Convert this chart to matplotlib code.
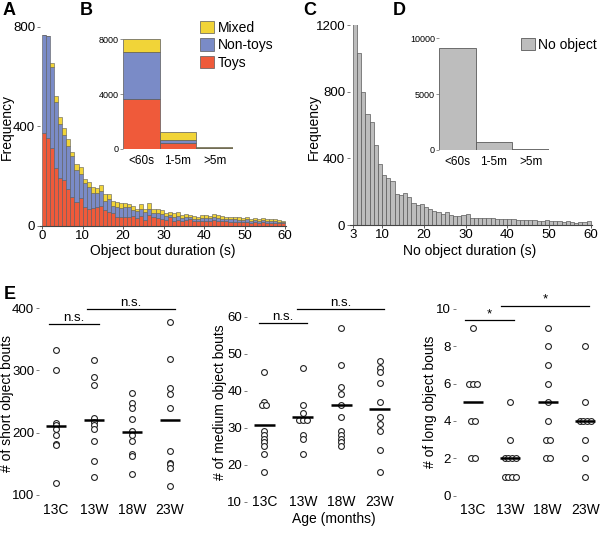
import numpy as np
import matplotlib.pyplot as plt

plt.rcParams['font.family'] = ['Liberation Sans', 'DejaVu Sans']
plt.rcParams['font.size'] = 10

# panel A: object bout durations, 1 s bins from 0 to 60
toys = [372, 352, 312, 233, 193, 185, 147, 114, 94, 111,
        74, 67, 71, 74, 78, 63, 54, 50, 36, 34,
        36, 36, 39, 30, 39, 23, 43, 34, 31, 28,
        23, 34, 20, 23, 19, 22, 25, 18, 17, 18,
        20, 18, 22, 20, 18, 17, 15, 16, 15, 14,
        16, 12, 13, 11, 14, 12, 11, 12, 10, 9]
nontoys = [393, 409, 324, 265, 217, 181, 175, 167, 131, 95,
           98, 87, 62, 59, 61, 37, 53, 30, 38, 36,
           40, 38, 24, 28, 27, 32, 25, 16, 21, 19,
           16, 9, 16, 16, 11, 13, 10, 10, 10, 12,
           12, 11, 12, 11, 10, 10, 10, 10, 9, 9,
           9, 8, 9, 8, 9, 8, 8, 8, 6, 6]
mixed = [3, 3, 17, 22, 27, 25, 26, 15, 24, 28,
         16, 23, 21, 18, 26, 27, 20, 19, 20, 22,
         16, 13, 16, 10, 21, 11, 22, 16, 16, 16,
         11, 12, 16, 16, 13, 12, 10, 10, 9, 12,
         12, 11, 12, 11, 10, 9, 9, 9, 9, 9,
         9, 8, 8, 7, 9, 8, 7, 8, 6, 5]

# panel B inset
bout_classes = ['<60s', '1-5m', '>5m']
toys_total = [3660, 435, 40]
nontoys_total = [3370, 195, 25]
mixed_total = [950, 600, 80]

# panel C: no object durations, 1 s bins from 3 to 60
no_object = [1205, 1029, 798, 663, 617, 482, 366, 302, 285, 265,
             185, 179, 191, 169, 135, 121, 125, 109, 94, 84,
             80, 68, 76, 60, 54, 54, 62, 64, 44, 40,
             42, 40, 42, 40, 38, 36, 34, 36, 34, 30,
             30, 32, 28, 30, 26, 26, 28, 22, 24, 22,
             20, 22, 16, 14, 16, 20, 22]
# panel D inset
no_object_total = [9100, 750, 90]

# panel E
groups = ['13C', '13W', '18W', '23W']
short_bouts = [[332, 300, 215, 213, 206, 197, 182, 180, 120],
               [317, 290, 276, 223, 217, 212, 206, 186, 155, 129],
               [263, 248, 239, 222, 203, 196, 186, 165, 163, 133],
               [377, 319, 271, 262, 239, 171, 151, 149, 144, 115]]
short_mean = [210, 220, 201, 220]
medium_bouts = [[45, 37, 36, 36, 29, 28, 27, 26, 25, 23, 18],
                [46, 36, 34, 32, 32, 32, 28, 27, 23],
                [57, 47, 41, 39, 36, 33, 29, 28, 27, 26, 25],
                [48, 46, 45, 42, 37, 33, 31, 29, 24, 18]]
medium_mean = [30.6, 33, 36, 35]
long_bouts = [[9, 6, 6, 6, 4, 4, 2, 2],
              [5, 3, 2, 2, 2, 2, 1, 1, 1, 1],
              [9, 8, 7, 6, 5, 4, 3, 3, 2, 2],
              [8, 5, 4, 4, 4, 4, 3, 2, 1]]
long_mean = [5, 2, 5, 4]

red = '#EF5A3A'
blue = '#7A8BC7'
yellow = '#F1D438'
grey = '#BDBDBD'
edge = '#5a5a5a'

W, H = 600, 533
fig = plt.figure(figsize=(6, 5.33), dpi=100)


def axes_px(left, top, right, bottom):
    return fig.add_axes([left / W, 1 - bottom / H, (right - left) / W, (bottom - top) / H])


def label_px(x, y, text, rot=0, size=10):
    fig.text(x / W, 1 - y / H, text, rotation=rot, ha='center', va='center', fontsize=size)


def hist_style(ax):
    for s in ['top', 'right', 'left']:
        ax.spines[s].set_visible(False)
    ax.spines['bottom'].set_color('#444444')
    ax.tick_params(axis='y', length=2.5, width=0.6, color='#666666', pad=1, labelsize=9.5)
    ax.tick_params(axis='x', length=2.5, width=0.6, color='#444444', pad=0.5, labelsize=9.5)


# ---- A
axA = axes_px(40, 26.7, 286, 225.7)
left_edges = np.arange(0, 60)
toys = np.array(toys)
nontoys = np.array(nontoys)
mixed = np.array(mixed)
axA.bar(left_edges, toys, width=1, align='edge', color=red, edgecolor=edge, linewidth=0.4)
axA.bar(left_edges, nontoys, bottom=toys, width=1, align='edge', color=blue, edgecolor=edge, linewidth=0.4)
axA.bar(left_edges, mixed, bottom=toys + nontoys, width=1, align='edge', color=yellow, edgecolor=edge, linewidth=0.4)
axA.set_xlim(-0.5, 60.2)
axA.set_ylim(0, 800)
axA.set_yticks([0, 400, 800])
axA.set_xticks(range(0, 61, 10))
hist_style(axA)
label_px(163, 251, 'Object bout duration (s)')
label_px(7, 127, 'Frequency', rot=90)

# ---- B
axB = axes_px(123, 39, 233, 149)
xb = np.arange(3)
toys_total = np.array(toys_total)
nontoys_total = np.array(nontoys_total)
mixed_total = np.array(mixed_total)
hb1 = axB.bar(xb, toys_total, width=1, color=red, edgecolor=edge, linewidth=0.5)
hb2 = axB.bar(xb, nontoys_total, bottom=toys_total, width=1, color=blue, edgecolor=edge, linewidth=0.5)
hb3 = axB.bar(xb, mixed_total, bottom=toys_total + nontoys_total, width=1, color=yellow, edgecolor=edge, linewidth=0.5)
axB.set_xlim(-0.5, 2.5)
axB.set_ylim(0, 8000)
axB.set_yticks([0, 4000, 8000])
axB.set_xticks(xb)
axB.set_xticklabels(bout_classes)
for s in axB.spines.values():
    s.set_visible(False)
axB.tick_params(axis='y', length=2, width=0.5, color='#666666', pad=1, labelsize=6.5)
axB.tick_params(axis='x', length=0, pad=4, labelsize=8.5)
axB.patch.set_alpha(0)

fig.legend([hb3, hb2, hb1], ['Mixed', 'Non-toys', 'Toys'], loc='upper left',
           bbox_to_anchor=(200 / W, 1 - 21 / H), frameon=False, fontsize=10,
           handlelength=1.0, handleheight=1.0, handletextpad=0.3, labelspacing=0.25,
           borderaxespad=0, borderpad=0)

# ---- C
axC = axes_px(350, 25, 592, 225)
axC.bar(np.arange(3, 60), no_object, width=1, align='edge', color=grey, edgecolor=edge, linewidth=0.5)
axC.set_xlim(2.3, 60.3)
axC.set_ylim(0, 1200)
axC.set_yticks([0, 400, 800, 1200])
axC.set_xticks([3, 10, 20, 30, 40, 50, 60])
hist_style(axC)
label_px(470, 251, 'No object duration (s)')
label_px(314, 127, 'Frequency', rot=90)

# ---- D
axD = axes_px(439, 38.3, 549, 150)
hd = axD.bar(xb, no_object_total, width=1, color=grey, edgecolor=edge, linewidth=0.6)
axD.set_xlim(-0.5, 2.5)
axD.set_ylim(0, 10000)
axD.set_yticks([0, 5000, 10000])
axD.set_xticks(xb)
axD.set_xticklabels(bout_classes)
for s in axD.spines.values():
    s.set_visible(False)
axD.tick_params(axis='y', length=2, width=0.5, color='#666666', pad=1, labelsize=6.5)
axD.tick_params(axis='x', length=0, pad=4, labelsize=8.5)
axD.patch.set_alpha(0)
fig.legend([hd], ['No object'], loc='upper left', bbox_to_anchor=(521 / W, 1 - 38 / H),
           frameon=False, fontsize=10, handlelength=1.0, handleheight=1.0,
           handletextpad=0.25, borderaxespad=0, borderpad=0)


# ---- E
def strip(ax, data, means, ylim, yticks, sig, sig_y, sig_txt, xpad):
    pos = np.arange(1, len(groups) + 1)
    for p, vals in zip(pos, data):
        vals = np.array(vals, dtype=float)
        xs = np.full(len(vals), float(p))
        for v in np.unique(vals):
            idx = np.where(vals == v)[0]
            xs[idx] = p + (np.arange(len(idx)) - (len(idx) - 1) / 2) * 0.1
        ax.plot(xs, vals, 'o', mfc='white', mec='#222222', ms=4.2, mew=0.8, zorder=2)
    ax.hlines(means, pos - 0.27, pos + 0.27, color='black', lw=1.8, zorder=3)
    for (x0, x1), y, t in zip(sig, sig_y, sig_txt):
        ax.plot([x0, x1], [y, y], color='black', lw=0.9, clip_on=False)
        ax.text((x0 + x1) / 2, y, t, ha='center', va='bottom', fontsize=9.5)
    ax.set_xlim(0.55, 4.45)
    ax.set_ylim(*ylim)
    ax.set_yticks(yticks)
    ax.set_xticks(pos)
    ax.set_xticklabels(groups)
    for s in ax.spines.values():
        s.set_visible(False)
    ax.tick_params(axis='y', length=2.5, width=0.6, color='#666666', pad=1, labelsize=9.5)
    ax.tick_params(axis='x', length=0, pad=xpad, labelsize=10)
    ax.patch.set_alpha(0)


axE1 = axes_px(39, 300, 187, 502)
strip(axE1, short_bouts, short_mean, (88.7, 413), [100, 200, 300, 400],
      [(0.82, 2.12), (1.82, 4.14)], [375, 399], ['n.s.', 'n.s.'], 0.5)
label_px(7, 404, '# of short object bouts', rot=90)
axE2 = axes_px(247, 300, 397, 502)
strip(axE2, medium_bouts, medium_mean, (9.9, 64.5), [10, 20, 30, 40, 50, 60],
      [(0.85, 2.12), (1.85, 4.12)], [58.2, 62], ['n.s.', 'n.s.'], -5)
label_px(334, 519, 'Age (months)')
label_px(220, 402, '# of medium object bouts', rot=90)
axE3 = axes_px(456, 300, 602, 502)
strip(axE3, long_bouts, long_mean, (-0.34, 10.48), [0, 2, 4, 6, 8, 10],
      [(0.8, 2.1), (1.75, 4.1)], [9.4, 10.18], ['*', '*'], 0.5)
label_px(430, 402, '# of long object bouts', rot=90)

for lbl, x, y in [('A', 3, 2), ('B', 80, 2), ('C', 303, 2), ('D', 393, 2), ('E', 4, 286)]:
    fig.text(x / W, 1 - y / H, lbl, fontsize=13, fontweight='bold', va='top', ha='left')

fig.savefig('out.png', dpi=100)
